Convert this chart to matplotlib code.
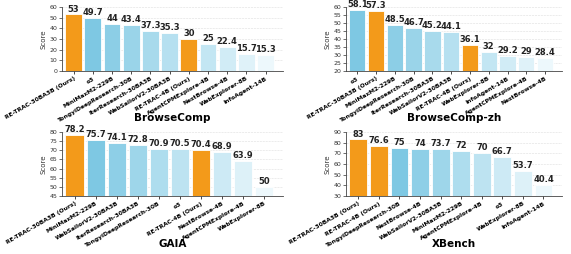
import matplotlib.pyplot as plt
import matplotlib.colors as mcolors
import numpy as np

# BrowseComp
bc_names = ["RE-TRAC-30BA3B (Ours)", "o3", "MiniMaxM2-229B", "TongyiDeepResearch-30B",
            "IterResearch-30BA3B", "WebSailorV2-30BA3B", "RE-TRAC-4B (Ours)",
            "AgentCPMExplore-4B", "NestBrowse-4B", "WebExplorer-8B", "InfoAgent-14B"]
bc_vals = [53, 49.7, 44, 43.4, 37.3, 35.3, 30, 25, 22.4, 15.7, 15.3]

# BrowseComp-zh
zh_names = ["o3", "RE-TRAC-30BA3B (Ours)", "MiniMaxM2-229B", "TongyiDeepResearch-30B",
            "IterResearch-30BA3B", "WebSailorV2-30BA3B", "RE-TRAC-4B (Ours)",
            "WebExplorer-8B", "InfoAgent-14B", "AgentCPMExplore-4B", "NestBrowse-4B"]
zh_vals = [58.1, 57.3, 48.5, 46.7, 45.2, 44.1, 36.1, 32, 29.2, 29, 28.4]

# GAIA
gaia_names = ["RE-TRAC-30BA3B (Ours)", "MiniMaxM2-229B", "WebSailorV2-30BA3B",
              "IterResearch-30BA3B", "TongyiDeepResearch-30B", "o3", "RE-TRAC-4B (Ours)",
              "NestBrowse-4B", "AgentCPMExplore-4B", "WebExplorer-8B"]
gaia_vals = [78.2, 75.7, 74.1, 72.8, 70.9, 70.5, 70.4, 68.9, 63.9, 50]

# XBench
xb_names = ["RE-TRAC-30BA3B (Ours)", "RE-TRAC-4B (Ours)", "TongyiDeepResearch-30B",
            "NestBrowse-4B", "WebSailorV2-30BA3B", "MiniMaxM2-229B", "AgentCPMExplore-4B",
            "o3", "WebExplorer-8B", "InfoAgent-14B"]
xb_vals = [83, 76.6, 75, 74, 73.7, 72, 70, 66.7, 53.7, 40.4]

orange = "#F39A1A"
blue_dark = np.array(mcolors.to_rgb("#7EC8E3"))
blue_light = np.array(mcolors.to_rgb("#EDF8FC"))


def draw(ax, names, vals, ylim, yticks, title, title_y):
    others = [n for n in names if "Ours" not in n]
    colors = []
    for n in names:
        if "Ours" in n:
            colors.append(orange)
        else:
            t = others.index(n) / (len(others) - 1)
            colors.append(tuple(blue_dark * (1 - t) + blue_light * t))
    x = np.arange(len(names))
    ax.bar(x, vals, width=0.87, color=colors, edgecolor="white", linewidth=0.6, zorder=3)
    for xi, v in zip(x, vals):
        ax.text(xi, v + (ylim[1] - ylim[0]) * 0.015, f"{v:g}", ha="center", va="bottom",
                fontsize=6, fontweight="bold", color="#222222", zorder=4)
    ax.set_ylim(*ylim)
    ax.set_yticks(yticks)
    ax.set_xlim(-0.6, len(names) - 0.1)
    ax.set_xticks(x)
    ax.set_xticklabels(names, rotation=30, ha="right", rotation_mode="anchor",
                       fontsize=4.3, fontweight="bold")
    ax.tick_params(axis="y", labelsize=4.5, length=2, width=0.5, pad=1.5, colors="#333333")
    ax.tick_params(axis="x", length=2, width=0.5, pad=1.5)
    ax.set_ylabel("Score", fontsize=5, labelpad=2, color="#333333")
    ax.grid(axis="y", linestyle="--", linewidth=0.4, color="#dddddd", zorder=0)
    for s in ["top", "right"]:
        ax.spines[s].set_visible(False)
    for s in ["left", "bottom"]:
        ax.spines[s].set_linewidth(0.6)
        ax.spines[s].set_color("#444444")
    pos = ax.get_position()
    fig.text(pos.x0 + pos.width / 2, title_y, title, ha="center", va="center",
             fontsize=7.5, fontweight="bold")


fig = plt.figure(figsize=(5.71, 2.54), dpi=100)
W, H = 571, 254
ax1 = fig.add_axes([62 / W, 1 - 71 / H, 221 / W, 64 / H])
ax2 = fig.add_axes([346 / W, 1 - 71 / H, 216 / W, 64 / H])
ax3 = fig.add_axes([62 / W, 1 - 196 / H, 221 / W, 64 / H])
ax4 = fig.add_axes([346 / W, 1 - 196 / H, 216 / W, 64 / H])

draw(ax1, bc_names, bc_vals, (0, 60), range(0, 61, 10), "BrowseComp", 1 - 118 / H)
draw(ax2, zh_names, zh_vals, (20, 60), range(20, 61, 5), "BrowseComp-zh", 1 - 118 / H)
draw(ax3, gaia_names, gaia_vals, (45, 80), range(45, 81, 5), "GAIA", 1 - 244 / H)
draw(ax4, xb_names, xb_vals, (30, 90), range(30, 91, 10), "XBench", 1 - 244 / H)

fig.savefig("out.png", dpi=100)
